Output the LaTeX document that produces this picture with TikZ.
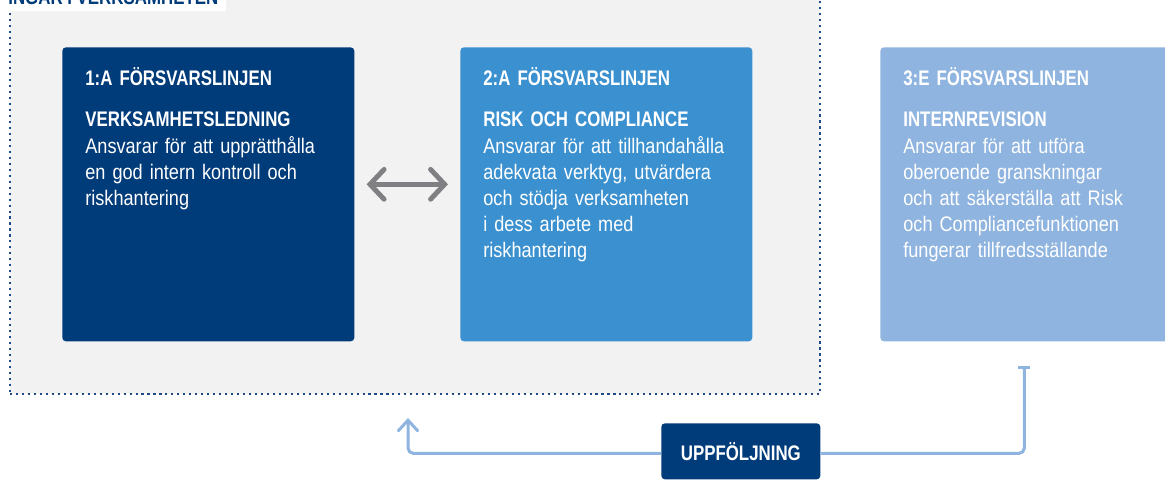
\documentclass[tikz,border=0pt]{standalone}
\usepackage{fontspec}
\setmainfont[FakeStretch=0.86,BoldFeatures={FakeStretch=0.8}]{Liberation Sans}
\usetikzlibrary{positioning,arrows.meta}

\definecolor{navy}{RGB}{0,59,122}
\definecolor{midblue}{RGB}{59,145,208}
\definecolor{lightblue}{RGB}{143,180,223}
\definecolor{bggray}{RGB}{242,242,242}
\definecolor{arrowgray}{RGB}{128,128,132}
\definecolor{dotblue}{RGB}{30,75,135}

\tikzset{
  linebox/.style={rectangle, rounded corners=2pt, minimum width=5.84cm, minimum height=5.88cm, inner sep=0pt, anchor=north west},
  boxtext/.style={anchor=north west, text width=5.6cm, align=left, inner sep=0pt, text=white, font=\fontsize{12}{14.74}\selectfont},
  grayarrow/.style={draw=arrowgray, line width=2.8pt, line cap=round, {Straight Barb[length=8pt,width=17pt,line cap=round]}-{Straight Barb[length=8pt,width=17pt,line cap=round]}},
  fbline/.style={draw=lightblue, line width=1.7pt, rounded corners=3pt},
}

\begin{document}
\begin{tikzpicture}[x=0.02cm,y=-0.02cm]
\useasboundingbox (0,0) rectangle (1165,480);
\clip (0,0) rectangle (1165,480);

% the area that belongs to the business
\node[fill=bggray, draw=dotblue, line width=1.2pt, dash pattern=on 1.2pt off 2.2pt, minimum width=16.2cm, minimum height=8.1cm, inner sep=0pt, anchor=south west] (verks) at (9,395) {};
\node[fill=white, anchor=south west, inner xsep=0.16cm, inner ysep=0.12cm, text depth=0pt, text=navy, font=\fontsize{12}{14}\selectfont\bfseries] (rubrik) at (0,11) {INGÅR I VERKSAMHETEN};

% the three lines of defence
\node[linebox, fill=navy] (linje1) at (62,47) {};
\node[linebox, fill=midblue] (linje2) at (460,47) {};
\node[linebox, fill=lightblue] (linje3) at (880,47) {};

\node[boxtext, below right=0.4cm and 0.46cm of linje1.north west] (text1) {%
  \textbf{1:A FÖRSVARSLINJEN}\\[8.5pt]
  \textbf{VERKSAMHETSLEDNING}\\[1pt]
  Ansvarar för att upprätthålla\\
  en god intern kontroll och\\
  riskhantering};
\node[boxtext, below right=0.4cm and 0.46cm of linje2.north west] (text2) {%
  \textbf{2:A FÖRSVARSLINJEN}\\[8.5pt]
  \textbf{RISK OCH COMPLIANCE}\\[1pt]
  Ansvarar för att tillhandahålla\\
  adekvata verktyg, utvärdera\\
  och stödja verksamheten\\
  i dess arbete med\\
  riskhantering};
\node[boxtext, below right=0.4cm and 0.46cm of linje3.north west] (text3) {%
  \textbf{3:E FÖRSVARSLINJEN}\\[8.5pt]
  \textbf{INTERNREVISION}\\[1pt]
  Ansvarar för att utföra\\
  oberoende granskningar\\
  och att säkerställa att Risk\\
  och Compliancefunktionen\\
  fungerar tillfredsställande};

% dialogue between line 1 and line 2
\draw[grayarrow] ([shift={(12,-10)}]linje1.east) -- ([shift={(-12,-10)}]linje2.west);

% follow-up from internal audit
\node[fill=navy, rounded corners=2pt, minimum width=3.18cm, minimum height=1.12cm, inner sep=0pt, anchor=north west, text=white, font=\fontsize{12}{14}\selectfont\bfseries] (uppf) at (661,423) {UPPFÖLJNING};
\coordinate (tstart) at ([shift={(-2,24)}]linje3.south);
\coordinate (aend) at (408,418);
\draw[fbline, {Bar[width=7pt,line cap=butt]}-] (tstart) |- ([shift={(0,2)}]uppf.east);
\draw[fbline, -{Straight Barb[length=6pt,width=11pt,line cap=round]}] ([shift={(0,2)}]uppf.west) -| (aend);
\end{tikzpicture}
\end{document}
